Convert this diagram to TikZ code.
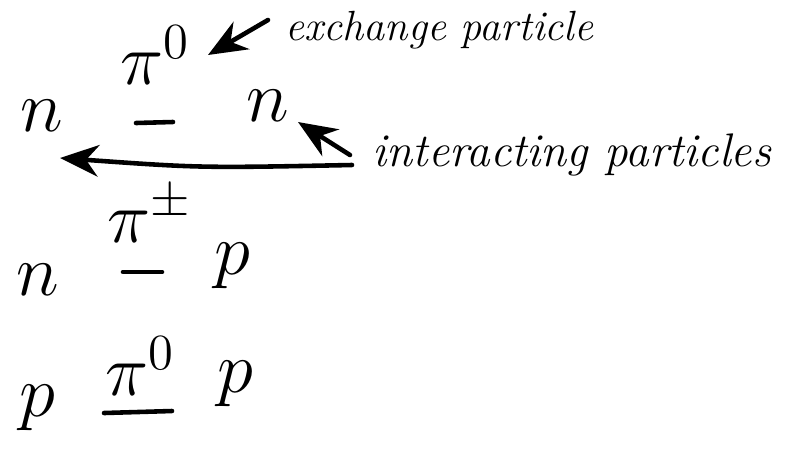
\documentclass[tikz,border=0pt]{standalone}
\usetikzlibrary{arrows.meta}
\begin{document}
\begin{tikzpicture}[x=0.01cm,y=-0.01cm,
  sym/.style={inner sep=0pt,font=\fontsize{22}{26}\selectfont},
  lbl/.style={inner sep=0pt,anchor=base west,font=\fontsize{12}{15}\selectfont\itshape},
  lblb/.style={lbl,font=\fontsize{13.4}{16}\selectfont\itshape},
  stroke/.style={line width=1.3pt,line cap=round},
  pointer/.style={stroke,-{Stealth[length=11pt,width=9pt]}}]
\useasboundingbox (0,0) rectangle (786,448);
% row 1
\node[sym] (n1) at (42,116) {$n$};
\node[sym] (pi1) at (155,55) {$\pi^{0}$};
\coordinate (d1a) at (136,123);
\coordinate (d1b) at (173,122);
\draw[stroke] (d1a) -- (d1b);
\node[sym] (n2) at (268,106) {$n$};
% labels
\node[lbl] (ex) at (285,40) {exchange particle};
\node[lblb] (ia) at (372,166) {interacting particles};
\coordinate (exs) at (268,20);
\coordinate (exe) at (208,55);
\draw[pointer] (exs) -- (exe);
\coordinate (ias) at (350,155);
\coordinate (iae) at (298,122);
\draw[pointer] (ias) -- (iae);
\coordinate (ls) at (352,165);
\coordinate (le) at (60,158);
\draw[pointer] (ls) .. controls (200,168) .. (le);
% row 2
\node[sym] (pi2) at (150,214) {$\pi^{\pm}$};
\node[sym] (n3) at (38,280) {$n$};
\coordinate (d2a) at (123,272);
\coordinate (d2b) at (162,272);
\draw[stroke] (d2a) -- (d2b);
\node[sym] (p1) at (232,266) {$p$};
% row 3
\node[sym] (pi3) at (140,366) {$\pi^{0}$};
\coordinate (d3a) at (104,413);
\coordinate (d3b) at (172,411);
\draw[stroke] (d3a) -- (d3b);
\node[sym] (p2) at (37,408) {$p$};
\node[sym] (p3) at (235,384) {$p$};
\end{tikzpicture}
\end{document}
